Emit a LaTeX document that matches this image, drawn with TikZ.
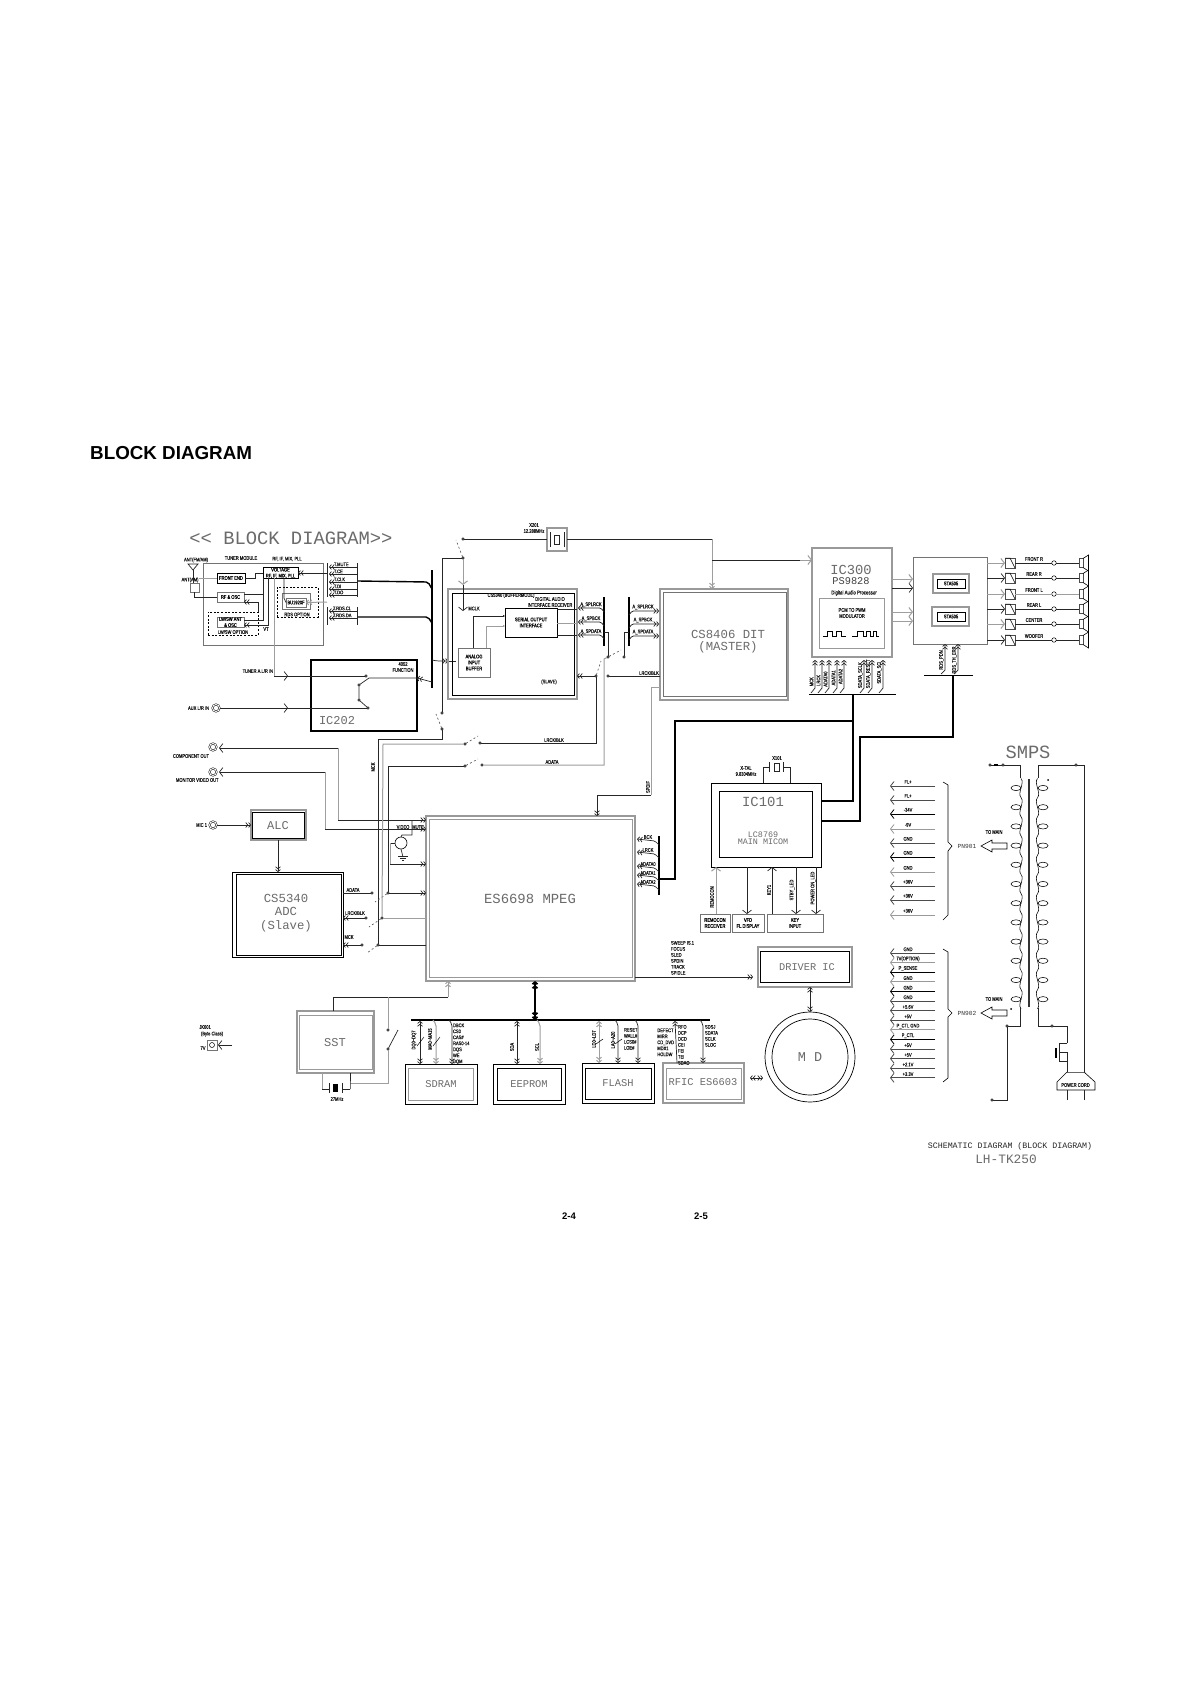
\documentclass[tikz,border=0pt]{standalone}
\usepackage{fontspec}
\usetikzlibrary{positioning, arrows.meta, shapes.geometric}
\setmainfont{Liberation Sans}
\newfontfamily\cadfont{Liberation Mono}
\newfontfamily\lblfont[FakeStretch=.78,FakeBold=.25]{Liberation Sans}
\newcommand{\cad}[1]{\cadfont\fontsize{#1}{#1}\selectfont}
\newcommand{\blk}[7][]{\pgfmathsetmacro\blkw{#5-#3}\pgfmathsetmacro\blkh{#6-#4}%
  \node[blkbox,#1,minimum width=\blkw pt,minimum height=\blkh pt] (#2) at ({(#3+#5)/2},{(#4+#6)/2}) {#7};}
\tikzset{
  dblv/.tip={Straight Barb[length=2pt,width=5pt,sep=0pt] Straight Barb[length=2pt,width=5pt]},
  bigv/.tip={Straight Barb[length=3.5pt,width=9pt]},
  blkbox/.style={draw=black,line width=.8pt,inner sep=0pt,outer sep=0pt,align=center,font=\lblfont\fontsize{5.2}{6}\selectfont},
  gbox/.style={draw=black!40,line width=1.1pt},
  thinbox/.style={draw=black!55,line width=.6pt},
  dashbox/.style={draw=black,line width=.5pt,dash pattern=on 2pt off 1.6pt},
  bigtext/.style={font=\cad{#1},text=black!58,align=center},
  lbl/.style={inner sep=0pt,outer sep=0pt,align=center,font=\lblfont\fontsize{5.2}{6}\selectfont,text=black!90},
  vlbl/.style={lbl,rotate=90},
  listlbl/.style={lbl,align=left,anchor=north west},
  sig/.style={line width=.7pt,draw=black!85},
  gsig/.style={line width=1pt,draw=black!38},
  busbar/.style={line width=1.4pt,draw=black},
  swarm/.style={line width=.6pt,draw=black!70,dash pattern=on 2pt off 2.4pt},
  term/.style={circle,draw=black,fill=white,line width=.5pt,inner sep=0pt,outer sep=0pt,minimum size=2.6pt},
  jack/.style={circle,draw=black,double,double distance=.9pt,line width=.5pt,inner sep=0pt,outer sep=0pt,minimum size=7pt}
}
\begin{document}
\begin{tikzpicture}[x=1pt,y=-1pt]
\path[fill=white,use as bounding box] (0,0) rectangle (1192,1685);

% Page texts
\node[anchor=west,inner sep=0pt,font=\bfseries\fontsize{18.8}{20}\selectfont] (heading) at (90,453) {BLOCK DIAGRAM};
\node[font=\bfseries\fontsize{9.5}{10}\selectfont,inner sep=0pt] (page4) at (569,1216) {2-4};
\node[font=\bfseries\fontsize{9.5}{10}\selectfont,inner sep=0pt] (page5) at (701,1216) {2-5};
\node[bigtext=18.8,inner sep=0pt] (title) at (291,538) {<\kern0pt< BLOCK DIAGRAM>\kern0pt>};
\node[bigtext=8.3,inner sep=0pt,text=black!85] (schem) at (1010,1146) {SCHEMATIC DIAGRAM (BLOCK DIAGRAM)};
\node[bigtext=12.8,inner sep=0pt] (model) at (1006,1159) {LH-TK250};

% Tuner module
\blk[thinbox]{tuner}{203}{563}{323}{645}{}
\blk[thinbox]{antbox}{190}{583}{199}{592}{}
\blk{frontend}{217}{573}{245}{583}{FRONT END}
\blk[thinbox]{rfosc}{217}{592}{244}{602}{RF \& OSC}
\blk[dashbox]{lwopt}{208}{612}{258}{635}{}
\blk[thinbox]{lwosc}{217}{617}{244}{627}{LW/SW ANT\\\& OSC}
\blk[dashbox]{rdsopt}{277}{587}{318}{617}{}
\blk[thinbox]{buout}{282}{593}{310}{609}{}
\blk[thinbox]{bu}{286}{598}{306}{607}{BU1920F}
\blk{voltage}{263}{568}{298}{578}{VOLTAGE\\RF, IF, MIX, PLL}
\node[lbl] (lantfm) at (196,560) {ANT(FM/AM)};
\node[lbl] (lantam) at (190,580) {ANT(AM)};
\node[lbl] (ltuner) at (241,558) {TUNER MODULE};
\node[lbl] (lrfif) at (287,559) {RF, IF, MIX, PLL};
\node[lbl] (llwopt) at (233,632) {LW/SW OPTION};
\node[lbl] (lrdsopt) at (297,614.5) {RDS OPTION};
\node[lbl] (lvt) at (266,629) {VT};
\draw[sig] (188,564) -- (198,564) -- (193,570) -- cycle;
\draw[sig] (193,570) -- (antbox.north -| 193,0);
\draw[gsig] (antbox.east |- 0,578) -- (frontend.west);
\draw[sig] (194,592) -- (194,597) -- (rfosc.west);
\draw[sig] (frontend.east) -- (255,578) -- (255,573) -- (voltage.west |- 0,573);
\draw[sig] (rfosc.east |- 0,594) -- (263,594) -- (voltage.south -| 263,0);
\draw[sig] (lwosc.east |- 0,620) -- (263,620) -- (263,578);
\draw[sig,-{dblv}] (258,612) -- (258,602) -- (rfosc.east |- 0,602);
\draw[sig,-{dblv}] (268,578) -- (268,625) -- (lwosc.east |- 0,625);
\draw[sig] (284,578) -- (284,598) -- (bu.west);
\draw[sig,{dblv}-] (voltage.east |- 0,573) -- (327,573);
\draw[gsig,-{dblv}] (327,602) -- (bu.east);
\draw[sig] (327,563) -- (327,597);
\draw[sig] (357,563) -- (357,597);
\draw[sig] (327,607) -- (327,625);
\draw[sig] (357,607) -- (357,625);
\foreach \y/\txt [count=\n] in {567/T.MUTE,574/T.CE,582/T.CLK,589/T.DI,595/T.DO}{
  \draw[sig,{dblv}-] (329,\y) -- (357,\y);
  \node[lbl,anchor=west] (ltu\n) at (334,\y-2.6) {\txt};
}
\foreach \y/\txt [count=\n] in {611/T.RDS.CL,618/T.RDS.DA}{
  \draw[sig,{dblv}-] (329,\y) -- (357,\y);
  \node[lbl,anchor=west] (lrd\n) at (333,\y-2.6) {\txt};
}
\draw[busbar] (432,570) -- (432,688);
\draw[busbar,rounded corners=2pt] (358,581) -- (428,582) -- (432,589);
\draw[busbar,rounded corners=2pt] (358,617) -- (428,617) -- (432,623);

% IC202
\blk[line width=1.2pt]{icII}{311}{660}{417}{731}{}
\node[bigtext=12] (lic202) at (337,721) {IC202};
\node[lbl] (l4052) at (403,667) {4052\\FUNCTION};
\node[lbl,anchor=east] (ltunerin) at (273,671) {TUNER A.L/R IN};
\node[lbl,anchor=east] (lauxin) at (209,708) {AUX L/R IN};
\node[jack] (auxjack) at (216,708) {};
\node[term] (swa) at (366,676) {};
\node[term] (swb) at (359,685) {};
\node[term] (swc) at (359,700) {};
\node[term] (swd) at (368,708) {};
\draw[gsig] (274,578) -- (274,676);
\draw[sig] (274,676) -- (swa);
\draw[sig,-{bigv}] (274,676) -- (288,676);
\draw[sig] (auxjack) -- (swd);
\draw[sig,-{bigv}] (auxjack) -- (288,708);
\draw[sig] (swb) -- (369,678) -- (icII.east |- 0,678);
\draw[sig] (swb) -- (swc) -- (swd);
\draw[sig,-{dblv}] (432,682) -- (417,678);
\draw[sig,rounded corners=2pt,-{dblv}] (432,660) -- (437,661) -- (448,661);
\draw[sig] (448,661) -- (456,661);

% CS5340 buffer block
\blk[gbox]{csbufo}{448}{589}{577}{699}{}
\blk{csbuf}{452}{593}{574}{695}{}
\blk[line width=.7pt]{serial}{505}{608}{557}{637}{SERIAL OUTPUT\\INTERFACE}
\blk[thinbox]{analog}{458}{648}{490}{677}{ANALOG\\INPUT\\BUFFER}
\node[lbl] (lcsbuf) at (511,595.5) {CS5340 (BUFFERMODE)};
\node[lbl] (ldigital) at (550,602) {DIGITAL AUDIO\\INTERFACE RECEIVER};
\node[lbl] (lmclk) at (474,608.5) {MCLK};
\node[lbl] (lslave) at (549,682) {(SLAVE)};
\draw[sig,-{Latex[length=2pt,width=2.5pt]}] (473,648) -- (473,616) -- (serial.west |- 0,616);
\draw[gsig,-{Latex[length=2pt,width=2.5pt]}] (486,648) -- (486,626) -- (serial.west |- 0,626);
\draw[sig] (serial.east |- 0,609) -- (csbufo.east |- 0,609);
\draw[gsig] (serial.east |- 0,623) -- (csbufo.east |- 0,623);
\draw[sig] (serial.east |- 0,635) -- (csbufo.east |- 0,635);

% Clock switches
\blk[gbox]{xtal}{547}{528}{567}{551}{}
\node[lbl] (lxtal) at (534,528) {X201\\12.288MHz};
\draw[sig] (550,532) -- (550,547);
\draw[sig] (564,532) -- (564,547);
\draw[sig] (554,535) rectangle (559,544);
\node[term] (topa) at (463,539) {};
\node[term] (topb) at (463,558) {};
\node[term] (midb) at (442,713) {};
\node[term] (mida) at (442,729) {};
\node[term] (mcka) at (378,945) {};
\node[term] (mckb) at (362,945) {};
\coordinate (mclkj) at (442,558);
\coordinate (mcktop) at (378,739);
\coordinate (bufin) at (463,585);
\draw[sig] (topa) -- (xtal.west |- topa);
\draw[swarm] (topb) -- ++(-7,-18);
\draw[swarm] (mida) -- ++(-6,-15);
\draw[sig] (topb) -- (mclkj) -- (midb);
\draw[gsig,-{bigv}] (topb) -- (bufin);
\draw[sig,-{bigv}] (bufin) -- (463,611);
\draw[sig] (mida) -- (442,739) -- (mcktop) -- (mcka);
\node[vlbl] (lmck) at (373,767) {MCK};

% CS8406
\blk[gbox]{ditbox}{660}{589}{788}{700}{}
\blk[thinbox]{dit}{663}{592}{786}{696}{}
\node[bigtext=12.3] (ldit) at (728,634) {CS8406 DIT};
\node[bigtext=12.3] (lmaster) at (728,647) {(MASTER)};
\coordinate (xright) at (712,539);
\coordinate (xmid) at (712,560);
\draw[sig] (xtal.east |- xright) -- (xright);
\draw[gsig] (xright) -- (xmid);
\draw[gsig,-{dblv}] (xmid) -- (ditbox.north -| xmid);
\draw[sig] (xmid) -- (800,560);
\draw[gsig,-{bigv}] (800,560) -- (812,560);

% A_SP buses
\draw[line width=1.1pt] (604,597) -- (604,646);
\draw[line width=1.1pt] (629,597) -- (629,646);
\foreach \y/\yb/\txt [count=\n] in {608/612/A\_SPLRCK,622/625/A\_SPBCK,635/637/A\_SPDATA}{
  \draw[sig,rounded corners=1.5pt,{dblv}-] (578,\y) -- (601,\y) -- (604,\y+4);
  \node[lbl] (laspa\n) at (591,\y-3.3) {\txt};
  \draw[sig,rounded corners=1.5pt,-{dblv}] (629,\yb+3) -- (632,\yb-1) -- (659,\yb-1);
  \node[lbl] (laspb\n) at (643,\yb-5) {\txt};
}
\node[term] (dsa) at (608,657) {};
\node[term] (dsb) at (624,657) {};
\node[term] (lra) at (596,676) {};
\node[term] (lrb) at (608,676) {};
\node[term] (lrc) at (480,743) {};
\node[term] (lrd) at (465,744) {};
\node[term] (ada) at (482,765) {};
\node[term] (adb) at (465,766) {};
\draw[sig] (604,632) -- (608,632) -- (dsa);
\draw[sig] (629,632) -- (624,632) -- (dsb);
\draw[swarm] (dsa) -- (621,650);
\draw[swarm] (lra) -- (601,661);
\draw[swarm] (lrd) -- (478,736);
\draw[swarm] (adb) -- (478,759);
\draw[gsig] (dsa) -- (604,659) -- (604,765) -- (ada);
\draw[sig,-{dblv}] (lra) -- (csbufo.east |- lra);
\draw[sig] (lra) -- (596,743) -- (lrc);
\draw[sig] (lrb) -- (ditbox.west |- lrb);
\node[lbl] (llrcka) at (554,740) {LRCK/BLK};
\node[lbl] (ladata) at (552,762) {ADATA};
\node[lbl] (llrckb) at (649,673) {LRCK/BLK};

% IC300
\blk[gbox]{pcmchip}{812}{548}{892}{657}{}
\blk[gbox,line width=.8pt]{pcmmod}{819}{598}{884}{648}{}
\node[bigtext=13.8] (lic300) at (851,570) {IC300};
\node[bigtext=10.3,text=black!75] (lps) at (851,581) {PS9828};
\node[lbl,font=\lblfont\fontsize{5.6}{6}\selectfont] (ldap) at (854,593) {Digital Audio Processor};
\node[lbl] (lpcm) at (852,613) {PCM TO PWM\\MODULATOR};
\draw[line width=.6pt] (823,636) -- (827,636) -- (827,631) -- (832,631) -- (832,636) -- (836,636) -- (836,631) -- (841,631) -- (841,636) -- (846,636);
\draw[line width=.6pt] (852,636) -- (857,636) -- (857,631) -- (863,631) -- (863,636) -- (866,636) -- (866,631) -- (870,631) -- (870,636) -- (873,636) -- (873,631) -- (876,631) -- (876,636) -- (879,636);

% STA amps
\blk[thinbox,line width=.8pt]{amp}{913}{557}{987}{644}{}
\blk[gbox]{staao}{933}{574}{969}{593}{}
\blk[line width=.7pt]{staa}{937}{579}{965}{588}{STA505}
\blk[gbox]{stabo}{932}{607}{969}{626}{}
\blk[line width=.7pt]{stab}{937}{612}{965}{621}{STA505}
\foreach \y/\sty in {579/gsig,588/sig,612/gsig,621/gsig}{
  \draw[\sty,-{bigv}] (pcmchip.east |- 0,\y) -- (amp.west |- 0,\y);
}
\foreach \y/\txt/\sty/\sp [count=\n] in {563/FRONT R/gsig/sig,578/REAR R/sig/sig,594/FRONT L/gsig/gsig,609/REAR L/sig/sig,624/CENTER/gsig/sig,640/WOOFER/sig/sig}{
  \node[draw=black!70,line width=.6pt,minimum size=10pt,inner sep=0pt,outer sep=0pt] (flt\n) at (1010,\y) {};
  \draw[\sty,-{bigv}] (amp.east |- 0,\y) -- (flt\n.west);
  \draw[line width=.5pt] (flt\n.north west) -- ++(5,0) -- (flt\n.south east);
  \node[term,minimum size=4.5pt] (cir\n) at (1054,\y) {};
  \node[draw=black!70,line width=.8pt,minimum width=4pt,minimum height=9pt,inner sep=0pt,outer sep=0pt] (spk\n) at (1081,\y) {};
  \draw[line width=.6pt] (spk\n.north east) -- (1088.5,\y-8) -- (1088.5,\y+8) -- (spk\n.south east);
  \draw[\sp] (flt\n.east) -- (cir\n);
  \draw[\sp] (cir\n) -- (spk\n);
  \node[lbl] (lsp\n) at (1034,\y-4) {\txt};
}
\draw[line width=.9pt] (809,694) -- (896,694);
\draw[line width=.9pt] (924,675) -- (973,675);
\foreach \x/\txt [count=\n] in {815/MCK,822/LRCK,829/ADATA0,837/ADATA1,844/ADATA2,864/SDATA\_SCLK,872/SDATA\_RESET,883/SDATA\_SCI}{
  \draw[sig,-{dblv}] (\x-4,693) -- (\x,688) -- (\x,660);
  \node[vlbl] (lch\n) at (\x-3.5,683-1.3*\n) {\txt};
}
\foreach \x/\txt [count=\n] in {945/RDS\_PDN,958/RDS\_TH\_ERR}{
  \draw[sig,-{dblv}] (\x-4,674) -- (\x,670) -- (amp.south -| \x,0);
  \node[vlbl] (lam\n) at (\x-3.5,660) {\txt};
}

% IC101
\blk{mainouter}{711}{783}{821}{867}{}
\blk{micom}{719}{791}{812}{857}{}
\node[bigtext=13.9] (lic101) at (763,802) {IC101};
\node[bigtext=8.4] (lmicom) at (763,838.5) {LC8769\\[-1.7pt]MAIN MICOM};
\blk[thinbox]{remocon}{700}{914}{730}{932}{REMOCON\\RECEIVER}
\blk[thinbox]{vfd}{732}{914}{764}{932}{VFD\\FL DISPLAY}
\blk[thinbox]{keyin}{767}{914}{823}{932}{KEY\\INPUT}
\node[lbl] (lxta) at (746,771) {X-TAL\\9.8304MHz};
\node[lbl] (lxone) at (777,758) {X101};
\node[vlbl] (lremo) at (712,897) {REMOCON};
\node[vlbl] (lkey) at (769,890) {KEY1};
\node[vlbl] (lstby) at (792,890) {STBY\_LED};
\node[vlbl] (lpow) at (813,888) {POWER ON\_LED};
\draw[gsig,-{bigv}] (remocon.north -| 716,0) -- (mainouter.south -| 716,0);
\draw[sig,-{bigv}] (mainouter.south -| 747,0) -- (vfd.north -| 747,0);
\draw[sig,-{bigv}] (keyin.north -| 772,0) -- (mainouter.south -| 772,0);
\draw[sig,-{bigv}] (mainouter.south -| 796,0) -- (keyin.north -| 796,0);
\draw[sig,-{bigv}] (mainouter.south -| 816,0) -- (keyin.north -| 816,0);
\draw[sig] (mainouter.north -| 763,0) -- (763,767) -- (769,767);
\draw[sig] (mainouter.north -| 790,0) -- (790,767) -- (783,767);
\draw[sig] (769,762) -- (769,772);
\draw[sig] (783,762) -- (783,772);
\draw[sig] (774,763) rectangle (779,771);
\draw[line width=1.1pt] (853,694) -- (853,801) -- (mainouter.east |- 0,801);
\draw[line width=1.1pt] (953,675) -- (953,737) -- (860,737) -- (860,821) -- (mainouter.east |- 0,821);
\draw[line width=1.1pt] (853,721) -- (675,721) -- (675,879) -- (659,879);

% MPEG
\blk[gbox]{mpegbox}{426}{816}{635}{981}{}
\blk[gbox,line width=.7pt]{mpeg}{429}{819}{632}{977}{}
\node[bigtext=13.9] (lmpeg) at (530,899) {ES6698 MPEG};
\draw[line width=1.1pt] (659,836) -- (659,895);
\foreach \y/\txt [count=\n] in {840/BCK,853/LRCK,867/ADATA0,876/ADATA1,885/ADATA2}{
  \draw[sig,rounded corners=1.5pt,{dblv}-] (637,\y-1) -- (655,\y+1) -- (659,\y+5);
  \node[lbl] (lmp\n) at (648,\y-3) {\txt};
}
\draw[gsig] (ditbox.west |- 0,687) -- (651,687) -- (651,795);
\draw[sig,-{dblv}] (651,795) -- (597,795) -- (mpegbox.north -| 597,0);
\node[vlbl] (lspdif) at (648,787) {SPDIF};
\draw[sig,-{dblv}] (mpegbox.east |- 0,977) -- (753,977);
\node[listlbl] (lservo) at (671,941) {SWEEP IS.1\\FOCUS\\SLED\\SPDIN\\TRACK\\SPIDLE};

% Left side: out jacks
\node[jack] (compjack) at (213,747) {};
\node[jack] (monjack) at (213,772) {};
\node[jack] (micjack) at (213,825) {};
\node[lbl,anchor=east] (lcomp) at (209,756) {COMPONENT OUT};
\node[lbl,anchor=west] (lmon) at (176,780) {MONITOR VIDEO OUT};
\node[lbl,anchor=east] (lmic) at (207,825) {MIC 1};
\draw[sig,-{bigv}] (338,748) -- (219,748);
\draw[gsig] (338,748) -- (338,820);
\draw[sig,-{dblv}] (338,820) -- (mpegbox.west |- 0,820);
\draw[sig,-{bigv}] (325,772) -- (219,772);
\draw[gsig] (325,772) -- (325,829);
\draw[sig,-{dblv}] (325,829) -- (mpegbox.west |- 0,829);
\node[lbl] (lvideo) at (403,827) {VIDEO};
\node[lbl] (lmute) at (418,827) {MUTE};
\node[circle,draw,line width=.6pt,minimum size=12pt,inner sep=0pt,outer sep=0pt] (mutetr) at (401,843) {};
\draw[sig] (412,820) -- (412,835) -- (402,835) -- (mutetr.north);
\draw[sig] (390,843) -- (mutetr.west);
\draw[gsig] (390,843) -- (390,864);
\draw[sig,-{dblv}] (390,864) -- (mpegbox.west |- 0,864);
\draw[sig] (mutetr.south) -- (403,857);
\draw[sig] (398,856) -- (408,856) (400,858) -- (406,858) (402,860) -- (404,860);

% ALC and ADC
\blk[gbox]{alcbox}{251}{810}{306}{840}{}
\blk{alc}{252.5}{812}{304.5}{838}{}
\node[bigtext=12] (lalc) at (278,826) {ALC};
\draw[sig,-{dblv}] (micjack) -- (alcbox.west |- micjack);
\blk{adcbox}{232}{872}{343}{957}{}
\blk[line width=1pt]{adc}{236}{874.5}{341}{955}{}
\node[bigtext=12.3] (ladc) at (286,913) {CS5340\\[1pt]ADC\\[1pt](Slave)};
\draw[sig,-{dblv}] (alcbox.south -| 278,0) -- (adcbox.north -| 278,0);
\node[term] (ada1) at (372,893) {};
\node[term] (ada2) at (388,893) {};
\node[term] (lr1) at (366,918) {};
\node[term] (lr2) at (382,918) {};
\draw[sig] (adcbox.east |- ada1) -- (ada1);
\draw[sig,-{dblv}] (lr1) -- (adcbox.east |- lr1);
\draw[sig,-{dblv}] (mckb) -- (adcbox.east |- mckb);
\draw[swarm] (ada2) -- (375,902);
\draw[swarm] (lr2) -- (369,927);
\draw[swarm] (mcka) -- (367,953);
\draw[gsig] (lrd) -- (383,744) -- (lr2);
\draw[gsig] (lr2) -- (mpegbox.west |- lr2);
\draw[sig] (adb) -- (388,766) -- (ada2);
\draw[sig,-{dblv}] (ada2) -- (mpegbox.west |- ada2);
\draw[sig] (mcka) -- (mpegbox.west |- mcka);
\node[lbl] (ladcd) at (353,890) {ADATA};
\node[lbl] (ladcl) at (355,913) {LRCK/BLK};
\node[lbl] (ladcm) at (349,937) {MCK};

% SST
\blk[gbox]{sstbox}{297}{1011}{374}{1073}{}
\blk[gbox,line width=.7pt]{sst}{299.5}{1015}{372}{1069}{}
\node[bigtext=12] (lsst) at (335,1043) {SST};
\node[term] (ssta) at (388,1030) {};
\node[term] (sstb) at (388,1049) {};
\draw[sig] (sstbox.north -| 333,0) -- (333,997) -- (448,997);
\draw[gsig,-{dblv}] (448,997) -- (mpegbox.south -| 448,0);
\draw[gsig] (388,997) -- (ssta);
\draw[sig] (sstb) -- (398,1030);
\draw[gsig] (sstb) -- (388,1083) -- (350,1083);
\draw[sig] (350,1083) -- (350,1089) -- (sstbox.south -| 350,0);
\draw[gsig] (sstbox.south -| 322,0) -- (322,1089);
\draw[sig] (322,1089) -- (329,1089);
\draw[sig] (329,1083) -- (329,1093);
\draw[sig] (342,1083) -- (342,1093);
\fill (333,1084) rectangle (338,1092);
\draw[sig] (342,1089) -- (350,1089);
\node[lbl] (l27m) at (337,1099) {27MHz};
% By-pass jack
\node[lbl] (ljka) at (205,1027) {JK601};
\node[lbl] (ljkb) at (212,1034) {(Byte Class)};
\node[lbl] (ljkc) at (203,1048) {7V};
\blk[thinbox]{jkbox}{207}{1040}{217}{1050}{}
\node[circle,draw,line width=.5pt,minimum size=5pt,inner sep=0pt,outer sep=0pt] (jkhole) at (212,1045) {};
\coordinate (jkin) at (232,1045);
\draw[sig,-{bigv}] (jkin) -- (218,1045);

% Memory bus
\draw[busbar] (411,1020) -- (710,1020);
\draw[line width=1.8pt,{dblv}-{dblv}] (mpegbox.south -| 535,0) -- (535,1020);
\blk{sdrambox}{405}{1064}{477}{1104}{}
\blk[gbox,line width=.7pt]{sdram}{408.5}{1068.5}{473.5}{1100}{}
\blk{eeprombox}{493}{1064}{565}{1104}{}
\blk[line width=.7pt]{eeprom}{497}{1068.5}{561.5}{1100}{}
\blk{flashbox}{582}{1063}{654}{1103}{}
\blk[line width=.7pt]{flash}{585}{1068}{651}{1099}{}
\blk[gbox]{rficbox}{663}{1063}{744}{1103}{}
\blk[gbox,line width=.7pt]{rfic}{666}{1068}{741}{1099}{}
\node[bigtext=10.4] (lsdram) at (441,1084) {SDRAM};
\node[bigtext=10.4] (leeprom) at (529,1084) {EEPROM};
\node[bigtext=10.4] (lflash) at (618,1083) {FLASH};
\node[bigtext=10.4] (lrfic) at (703,1082) {RFIC ES6603};
\draw[sig,{dblv}-{dblv}] (420,1021) -- (sdrambox.north -| 420,0);
\draw[gsig,rounded corners=2pt,-{dblv}] (433,1020) -- (436,1024) -- (sdrambox.north -| 436,0);
\draw[sig,rounded corners=2pt,-{dblv}] (449,1020) -- (452,1024) -- (sdrambox.north -| 452,0);
\draw[sig,{dblv}-{dblv}] (517,1021) -- (eeprombox.north -| 517,0);
\draw[gsig,rounded corners=2pt,-{dblv}] (537,1020) -- (540,1024) -- (eeprombox.north -| 540,0);
\draw[gsig,{dblv}-{dblv}] (599,1021) -- (flashbox.north -| 599,0);
\draw[sig,rounded corners=2pt,-{dblv}] (615,1020) -- (618,1024) -- (flashbox.north -| 618,0);
\draw[sig,rounded corners=2pt,-{dblv}] (635,1020) -- (638,1024) -- (flashbox.north -| 638,0);
\draw[sig,{dblv}-] (675,1021) -- (677,1063);
\draw[sig,rounded corners=2pt,-{dblv}] (700,1020) -- (703,1024) -- (rficbox.north -| 703,0);
\draw[line width=.5pt] (417,1046) -- (424,1037);
\draw[line width=.5pt] (433,1046) -- (440,1037);
\draw[line width=.5pt] (596,1044) -- (603,1039);
\draw[line width=.5pt] (615,1044) -- (622,1039);
\node[vlbl] (ldq) at (414,1040) {DQ0\textasciitilde DQ7};
\node[vlbl] (lma) at (430,1039) {MA0\textasciitilde MA15};
\node[listlbl] (lsdc) at (453,1023.5) {DBCK\\CS0\\CAS\#\\RAS0-14\\DQS\\WE\\DQM};
\node[vlbl] (lsda) at (512,1047) {SDA};
\node[vlbl] (lscl) at (537,1047) {SCL};
\node[vlbl] (lldl) at (594,1039) {LD0\textasciitilde LD7};
\node[vlbl] (lladd) at (613,1040) {LA0\textasciitilde A20};
\node[listlbl] (lfls) at (624,1028) {RESET\\WALL\#\\LCS0\#\\LOE\#};
\node[lbl,align=left,anchor=north east] (lrfa) at (674,1028.5) {DEFECT\\MIRR\\CD\_DVD\\MDX1\\HOLDW};
\node[listlbl] (lrfb) at (678,1025) {RFO\\DCP\\DCD\\CEI\\FEI\\TEI\\SDAO};
\node[listlbl] (lrfc) at (705,1025) {SDSJ\\SDATA\\SCLK\\SLOC};

% Driver and motor
\blk[gbox]{drvbox}{758}{947}{852}{987}{}
\blk[line width=.8pt]{drv}{760.5}{951.5}{849}{982}{}
\node[bigtext=10.3] (ldrv) at (807,967) {DRIVER IC};
\node[circle,draw,line width=.7pt,minimum size=90pt,inner sep=0pt,outer sep=0pt] (motorb) at (810,1057) {};
\node[circle,draw,line width=.7pt,minimum size=76pt,inner sep=0pt,outer sep=0pt,bigtext=13.5] (motor) at (810,1057) {M D};
\draw[sig,{dblv}-{dblv}] (drvbox.south -| motorb) -- (motorb.north);
\coordinate (rfa) at (750,1078);
\coordinate (rfb) at (763,1078);
\draw[sig,{dblv}-{dblv}] (rfa) -- (rfb);

% SMPS
\node[bigtext=18.7] (lsmps) at (1028,752) {SMPS};
\node[term] (fusea) at (990,765) {};
\node[term] (fuseb) at (1003,765) {};
\node[term] (prit) at (1076,765) {};
\node[term] (secb) at (1007,1026) {};
\node[term] (secc) at (992,1100) {};
\node[term] (prib) at (1052,1026) {};
\draw[line width=1.6pt,draw=black!80] (1029,779) -- (1029,1007);
\draw[sig] (fusea) -- (fuseb) -- (1020.5,765) -- (1020.5,778);
\draw[line width=1.1pt] (994,765) -- (998,765);
\draw[sig] (1038,778) -- (1038,765) -- (prit) -- (1084,765) -- (1084,1072);
\foreach \i in {0,...,11}{
  \pgfmathsetmacro\cy{788+19.2*\i}
  \draw[line width=.55pt] (1021,\cy-9.6) .. controls (1025,\cy-5) and (1017,\cy+5) .. (1021,\cy+9.6);
  \draw[line width=.55pt] (1037.5,\cy-9.6) .. controls (1033.5,\cy-5) and (1041.5,\cy+5) .. (1037.5,\cy+9.6);
  \draw[line width=.55pt] (1016,\cy) ellipse (5pt and 2.6pt);
  \draw[line width=.55pt] (1043,\cy) ellipse (5pt and 2.6pt);
}
\fill (1048,780) circle (1pt);
\fill (1011,1009) circle (1pt);
\draw[sig] (1020.5,1008) -- (1020.5,1026) -- (secb) -- (1007,1100) -- (secc);
\draw[sig] (1038,1008) -- (1038,1026) -- (prib) -- (1067,1026) -- (1067,1043);
\draw[sig] (1067,1043) -- (1059,1043) -- (1059,1061);
\draw[sig] (1059,1061) -- (1067,1061) -- (1067,1072);
\draw[sig] (1059,1052) -- (1067,1052) -- (1067,1061);
\draw[line width=1.4pt] (1056,1048) -- (1056,1058);
\draw[line width=.8pt,draw=black!60] (1067,1072) -- (1084,1072);
\draw[line width=.6pt] (1067,1072) -- (1057,1082) -- (1057,1090) -- (1095,1090) -- (1095,1082) -- (1084,1072);
\node[lbl] (lcord) at (1075.5,1085) {POWER CORD};
\draw[sig] (1067,1090) -- (1067,1100);
\draw[sig] (1084,1090) -- (1084,1100);
\foreach \y/\txt/\col [count=\n] in {786/FL+/black!70,800/FL+/black!70,814/-34V/black,829/-9V/black!40,843/GND/black!70,857/GND/black,872/GND/black!40,886/+36V/black!70,900/+36V/black!70,915/+36V/black!40}{
  \draw[line width=.8pt,draw=\col,-{bigv}] (935,\y) -- (890,\y);
  \node[lbl] (lpa\n) at (908,\y-4.2) {\txt};
}
\foreach \y/\txt/\col [count=\n] in {953/GND/black!70,962.6/7V(OPTION)/black!40,972.2/P\_SENSE/black,981.8/GND/black!40,991.4/GND/black,1001/GND/black!70,1010.6/+5.6V/black!70,1020.2/+5V/black!70,1029.8/P\_CTL GND/black!40,1039.4/P\_CTL/black,1049/+5V/black!70,1058.6/+5V/black!70,1068.2/+2.1V/black!70,1077.8/+3.3V/black!70}{
  \draw[line width=.8pt,draw=\col,-{bigv}] (935,\y) -- (890,\y);
  \node[lbl] (lpb\n) at (908,\y-3.7) {\txt};
}
\draw[line width=.6pt] (943,782) -- (948,785) -- (948,842) -- (952,846) -- (948,851) -- (948,915) -- (943,920);
\draw[line width=.6pt] (943,949) -- (948,952) -- (948,1009) -- (952,1013) -- (948,1017) -- (948,1078) -- (943,1082);
\node[bigtext=6.2,text=black!80] (lpna) at (967,846) {PN901};
\node[bigtext=6.2,text=black!80] (lpnb) at (967,1013) {PN902};
\node[lbl] (lmaina) at (994,832) {TO MAIN};
\node[lbl] (lmainb) at (994,999) {TO MAIN};
\draw[line width=.6pt] (1007,843) -- (992,843) -- (992,840) -- (981,846) -- (992,852) -- (992,849) -- (1007,849) -- cycle;
\draw[line width=.6pt] (1007,1010) -- (992,1010) -- (992,1007) -- (981,1013) -- (992,1019) -- (992,1016) -- (1007,1016) -- cycle;
\end{tikzpicture}
\end{document}
